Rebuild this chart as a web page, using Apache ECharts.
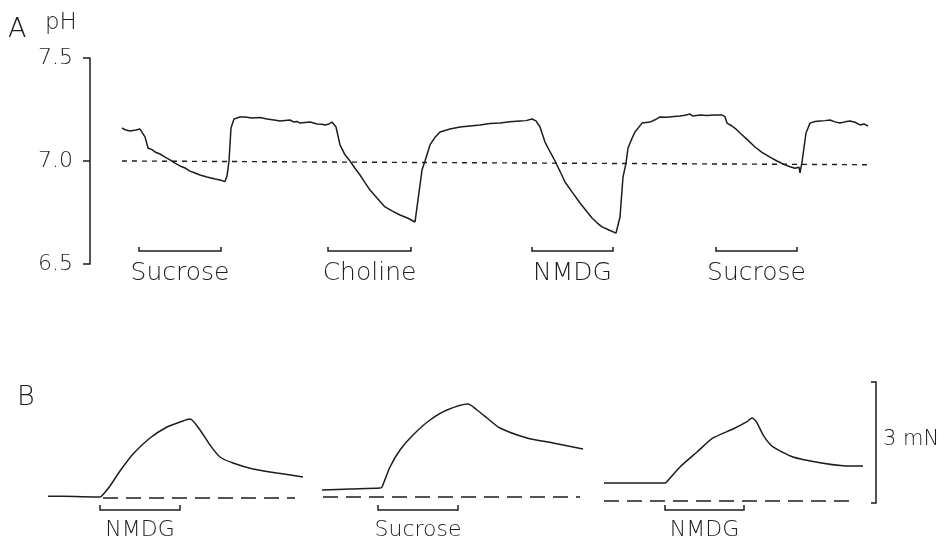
<!DOCTYPE html>
<html>
<head>
<meta charset="utf-8">
<script src="https://cdn.jsdelivr.net/npm/echarts@6/dist/echarts.min.js"></script>
<style>
html, body { margin: 0; padding: 0; background: #fff; }
#c { width: 945px; height: 544px; }
</style>
</head>
<body>
<div id="c"></div>
<script>
// ---- Panel A: intracellular pH recording (time in s) ----
const phTime = [0, 4, 8, 14, 18, 20, 23, 26, 30, 33, 38, 43, 48, 53, 58, 63, 68, 73, 78, 85, 93, 98, 103, 105, 107, 109, 112, 118, 123, 130, 138, 145, 152, 158, 163, 168, 172, 175, 178, 183, 188, 195, 200, 203, 207, 210, 214, 218, 223, 228, 233, 238, 243, 248, 255, 263, 270, 278, 286, 293, 296, 300, 303, 308, 313, 318, 328, 338, 348, 358, 368, 378, 388, 398, 404, 410, 414, 418, 423, 428, 433, 438, 443, 450, 458, 464, 470, 475, 480, 487, 494, 498, 501, 504, 506, 510, 513, 520, 528, 533, 538, 545, 552, 558, 563, 568, 571, 573, 578, 585, 592, 600, 603, 605, 610, 614, 618, 625, 633, 640, 648, 655, 663, 668, 673, 675, 677, 678, 680, 684, 688, 693, 698, 703, 708, 713, 718, 723, 728, 733, 738, 742, 746];
const phValue = [7.160, 7.150, 7.146, 7.150, 7.155, 7.160, 7.117, 7.063, 7.055, 7.044, 7.034, 7.019, 7.005, 6.990, 6.976, 6.966, 6.951, 6.942, 6.932, 6.922, 6.913, 6.908, 6.900, 6.927, 7.000, 7.160, 7.204, 7.214, 7.214, 7.209, 7.211, 7.204, 7.199, 7.194, 7.197, 7.199, 7.189, 7.192, 7.184, 7.187, 7.189, 7.180, 7.178, 7.175, 7.180, 7.189, 7.165, 7.078, 7.030, 7.000, 6.965, 6.932, 6.895, 6.859, 6.820, 6.777, 6.758, 6.738, 6.722, 6.704, 6.811, 6.956, 7.000, 7.078, 7.115, 7.141, 7.155, 7.165, 7.170, 7.175, 7.182, 7.184, 7.190, 7.194, 7.196, 7.204, 7.195, 7.165, 7.092, 7.045, 7.000, 6.950, 6.898, 6.850, 6.796, 6.760, 6.723, 6.700, 6.680, 6.665, 6.650, 6.728, 6.922, 6.990, 7.063, 7.110, 7.141, 7.184, 7.189, 7.200, 7.214, 7.212, 7.216, 7.218, 7.222, 7.228, 7.218, 7.214, 7.223, 7.221, 7.223, 7.223, 7.215, 7.184, 7.170, 7.155, 7.136, 7.105, 7.068, 7.042, 7.019, 7.000, 6.981, 6.972, 6.965, 6.961, 6.970, 6.942, 6.995, 7.136, 7.184, 7.192, 7.194, 7.196, 7.199, 7.190, 7.184, 7.190, 7.194, 7.188, 7.175, 7.180, 7.170];
const phTicks = [6.5, 7.0, 7.5];
// reference pH line (drifts slightly over the record)
const phRefTime = [0, 746];
const phRefValue = [7.0, 6.982];
// solution changes
const stimNamesA = ['Sucrose', 'Choline', 'NMDG', 'Sucrose'];
const stimStartA = [17, 206, 410, 594];
const stimEndA = [99, 289, 491, 675];

// ---- Panel B: force recordings (mN) ----
const forceTime1 = [0, 27, 52, 54, 62, 72, 85, 102, 119, 132, 142, 152, 162, 172, 185, 205, 229, 255];
const forceValue1 = [0.17, 0.16, 0.15, 0.18, 0.422, 0.793, 1.215, 1.612, 1.884, 2.008, 2.083, 1.810, 1.438, 1.141, 0.992, 0.843, 0.744, 0.645];
const forceTime2 = [274, 302, 332, 334, 342, 352, 365, 382, 399, 420, 429, 439, 452, 479, 505, 535];
const forceValue2 = [0.322, 0.347, 0.372, 0.397, 0.893, 1.314, 1.686, 2.058, 2.306, 2.455, 2.306, 2.108, 1.860, 1.612, 1.488, 1.339];
const forceTime3 = [556, 592, 617, 622, 632, 649, 665, 685, 699, 704, 708, 716, 725, 745, 772, 795, 815];
const forceValue3 = [0.496, 0.496, 0.496, 0.620, 0.893, 1.265, 1.612, 1.835, 2.017, 2.108, 2.030, 1.650, 1.389, 1.141, 1.0, 0.925, 0.917];
// resting force lines
const restStart = [55, 275, 556];
const restEnd = [247, 532, 802];
const restLevel = [0.124, 0.149, 0.05];
// solution changes
const stimNamesB = ['NMDG', 'Sucrose', 'NMDG'];
const stimStartB = [52, 330, 617];
const stimEndB = [132, 410, 696];
// calibration bar
const scaleBarMN = 3;

const INK = '#1d1d1d';
const FONT = '"DejaVu Sans", sans-serif';
const WEIGHT = 200;
const zip = (xs, ys) => xs.map((x, i) => [x, ys[i]]);

// bracket under the trace with its solution name below
function bracketRender(level, tick, gap, names, fontSize) {
  return function (params, api) {
    const a = api.coord([api.value(0), level]);
    const b = api.coord([api.value(1), level]);
    return {
      type: 'group',
      children: [
        {
          type: 'polyline',
          shape: { points: [[a[0], a[1] - tick], [a[0], a[1]], [b[0], b[1]], [b[0], b[1] - tick]] },
          style: { stroke: INK, lineWidth: 1.5, fill: null }
        },
        {
          type: 'text',
          style: {
            text: names[params.dataIndex], x: (a[0] + b[0]) / 2, y: a[1] + gap,
            align: 'center', verticalAlign: 'top',
            fontSize: fontSize, fontFamily: FONT, fontWeight: WEIGHT, fill: INK
          }
        }
      ]
    };
  };
}

const traceStyle = { color: INK, width: 1.5 };
function trace(data, xi, smooth) {
  return {
    type: 'line', xAxisIndex: xi, yAxisIndex: xi, data: data,
    showSymbol: false, symbol: 'none', smooth: smooth, clip: false,
    lineStyle: traceStyle, silent: true
  };
}

const series = [
  trace(zip(phTime, phValue), 0, false),
  {
    type: 'line', xAxisIndex: 0, yAxisIndex: 0, data: zip(phRefTime, phRefValue),
    showSymbol: false, symbol: 'none', silent: true,
    lineStyle: { color: INK, width: 1.4, type: [5, 5] }
  },
  {
    type: 'custom', xAxisIndex: 0, yAxisIndex: 0, silent: true,
    data: stimStartA.map((s, i) => [s, stimEndA[i]]),
    encode: { x: [0, 1] },
    renderItem: bracketRender(6.563, 4, 10, stimNamesA, 25)
  },
  trace(zip(forceTime1, forceValue1), 1, 0.25),
  trace(zip(forceTime2, forceValue2), 1, 0.25),
  trace(zip(forceTime3, forceValue3), 1, 0.2)
];
restStart.forEach((s, i) => {
  series.push({
    type: 'line', xAxisIndex: 1, yAxisIndex: 1,
    data: [[s, restLevel[i]], [restEnd[i], restLevel[i]]],
    showSymbol: false, symbol: 'none', silent: true,
    lineStyle: { color: INK, width: 1.5, type: [15, 8] }
  });
});
series.push({
  type: 'custom', xAxisIndex: 1, yAxisIndex: 1, silent: true,
  data: stimStartB.map((s, i) => [s, stimEndB[i]]),
  encode: { x: [0, 1] },
  renderItem: bracketRender(-0.174, 5, 9, stimNamesB, 22)
});
// calibration bar for force
series.push({
  type: 'custom', xAxisIndex: 1, yAxisIndex: 1, silent: true,
  data: [[828, 0, scaleBarMN]],
  encode: { x: 0, y: [1, 2] },
  renderItem: function (params, api) {
    const a = api.coord([api.value(0), api.value(1)]);
    const b = api.coord([api.value(0), api.value(2)]);
    return {
      type: 'group',
      children: [
        {
          type: 'polyline',
          shape: { points: [[b[0] - 5, b[1]], [b[0], b[1]], [a[0], a[1]], [a[0] - 5, a[1]]] },
          style: { stroke: INK, lineWidth: 1.5, fill: null }
        },
        {
          type: 'text',
          style: {
            text: api.value(2) + ' mN', x: a[0] + 7, y: (a[1] + b[1]) / 2 - 3,
            align: 'left', verticalAlign: 'middle',
            fontSize: 21, fontFamily: FONT, fontWeight: WEIGHT, fill: INK
          }
        }
      ]
    };
  }
});

const chart = echarts.init(document.getElementById('c'));
chart.setOption({
  animation: false,
  backgroundColor: '#fff',
  grid: [
    { left: 90, top: 58, width: 832, height: 206, containLabel: false, outerBoundsMode: 'none' },
    { left: 48, top: 361.83, width: 850, height: 181.5, containLabel: false, outerBoundsMode: 'none' }
  ],
  xAxis: [
    { type: 'value', gridIndex: 0, min: -32, max: 800, show: false },
    { type: 'value', gridIndex: 1, min: 0, max: 850, show: false }
  ],
  yAxis: [
    {
      type: 'value', gridIndex: 0, min: phTicks[0], max: phTicks[phTicks.length - 1], interval: 0.5,
      axisLine: { show: true, onZero: false, lineStyle: { color: INK, width: 1.5 } },
      axisTick: { show: true, length: 7, lineStyle: { color: INK, width: 1.5 } },
      axisLabel: {
        show: true, margin: 17, showMinLabel: true, showMaxLabel: true,
        formatter: v => v.toFixed(1),
        fontSize: 22, fontFamily: FONT, fontWeight: WEIGHT, color: INK
      },
      splitLine: { show: false }
    },
    { type: 'value', gridIndex: 1, min: -1, max: 3.5, show: false }
  ],
  graphic: [
    { type: 'text', left: 8, top: 16, style: { text: 'A', fontSize: 27, fontFamily: FONT, fontWeight: WEIGHT, fill: INK } },
    { type: 'text', left: 45, top: 12, style: { text: 'pH', fontSize: 23, fontFamily: FONT, fontWeight: WEIGHT, fill: INK } },
    { type: 'text', left: 17, top: 384, style: { text: 'B', fontSize: 27, fontFamily: FONT, fontWeight: WEIGHT, fill: INK } }
  ],
  series: series
});
</script>
</body>
</html>
